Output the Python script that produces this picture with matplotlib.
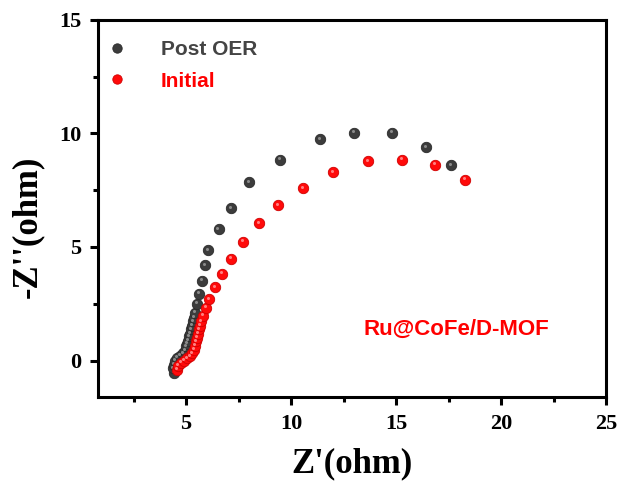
import numpy as np
import matplotlib
matplotlib.use("Agg")
import matplotlib.pyplot as plt
from matplotlib.ticker import MultipleLocator
from matplotlib.transforms import offset_copy

# Post OER data (Z', -Z'')
post_x = [4.43, 4.38, 4.43, 4.48, 4.57, 4.71, 4.86, 4.95, 5.00, 5.05, 5.10, 5.14,
          5.19, 5.24, 5.29, 5.33, 5.38, 5.43, 5.52, 5.62, 5.76, 5.90, 6.05, 6.55,
          7.14, 8.0, 9.48, 11.38, 13.0, 14.81, 16.43, 17.62]
post_y = [-0.53, -0.35, -0.18, 0.0, 0.13, 0.22, 0.31, 0.44, 0.62, 0.75, 0.88, 1.06,
          1.19, 1.37, 1.54, 1.72, 1.89, 2.11, 2.51, 2.95, 3.52, 4.19, 4.85, 5.80,
          6.70, 7.84, 8.85, 9.74, 10.04, 10.04, 9.38, 8.59]

# Initial data
init_x = [4.57, 4.62, 4.76, 4.90, 5.05, 5.19, 5.29, 5.38, 5.43, 5.48, 5.52, 5.57,
          5.62, 5.67, 5.71, 5.81, 5.95, 6.10, 6.38, 6.71, 7.14, 7.71, 8.48, 9.38,
          10.57, 12.0, 13.67, 15.29, 16.86, 18.29]
init_y = [-0.40, -0.22, -0.09, 0.0, 0.09, 0.18, 0.31, 0.48, 0.66, 0.84, 1.01, 1.19,
          1.37, 1.54, 1.72, 1.98, 2.33, 2.69, 3.22, 3.83, 4.49, 5.24, 6.04, 6.83,
          7.58, 8.28, 8.77, 8.85, 8.63, 7.97]

fig = plt.figure(figsize=(6.19, 4.84), dpi=100)
ax = fig.add_axes([0.158, 0.180, 0.821, 0.779])

# little highlight to mimic the shaded ball markers
hl = offset_copy(ax.transData, fig=fig, x=-1.3, y=1.3, units='dots')

ax.plot(post_x, post_y, 'o', ms=7.5, color='#3c3c3c', mec='#2a2a2a', mew=0.6,
        label='Post OER')
ax.plot(post_x, post_y, 'o', ms=2.2, color='#8a8a8a', mew=0, transform=hl)
ax.plot(init_x, init_y, 'o', ms=7.5, color='#ff0a0a', mec='#d00000', mew=0.6,
        label='Initial')
ax.plot(init_x, init_y, 'o', ms=2.2, color='#ff8080', mew=0, transform=hl)

ax.set_xlim(0.8, 25)
ax.set_ylim(-1.6, 15)
ax.xaxis.set_major_locator(MultipleLocator(5))
ax.xaxis.set_minor_locator(MultipleLocator(2.5))
ax.yaxis.set_major_locator(MultipleLocator(5))
ax.yaxis.set_minor_locator(MultipleLocator(2.5))
ax.set_xticks([5, 10, 15, 20, 25])

for s in ax.spines.values():
    s.set_linewidth(2.2)
ax.tick_params(which='major', direction='out', length=6, width=2.2, pad=6)
ax.tick_params(which='minor', direction='out', length=3.5, width=2.2)
for lab in ax.get_xticklabels() + ax.get_yticklabels():
    lab.set_fontfamily('Liberation Serif')
    lab.set_fontweight('bold')
    lab.set_fontsize(16)

ax.set_xlabel("Z'(ohm)", fontfamily='Liberation Serif', fontweight='bold',
              fontsize=25, labelpad=10)
ax.set_ylabel("-Z''(ohm)", fontfamily='Liberation Serif', fontweight='bold',
              fontsize=25, labelpad=10)
ax.yaxis.set_label_coords(-0.105, 0.45)

handles, labels = ax.get_legend_handles_labels()
leg = ax.legend(handles[:2], labels[:2], loc='upper left', frameon=False,
                bbox_to_anchor=(-0.016, 0.985), handletextpad=1.5,
                borderaxespad=0.3, labelspacing=0.6, markerscale=0.9,
                handlelength=1.2,
                prop={'family': 'Liberation Sans', 'weight': 'bold', 'size': 15})
leg.get_texts()[0].set_color('#444444')
leg.get_texts()[1].set_color('#ff0000')

ax.text(17.86, 1.37, 'Ru@CoFe/D-MOF', color='#ff0000', fontfamily='Liberation Sans',
        fontweight='bold', fontsize=16, ha='center', va='center')

fig.savefig('out.png', dpi=100)
